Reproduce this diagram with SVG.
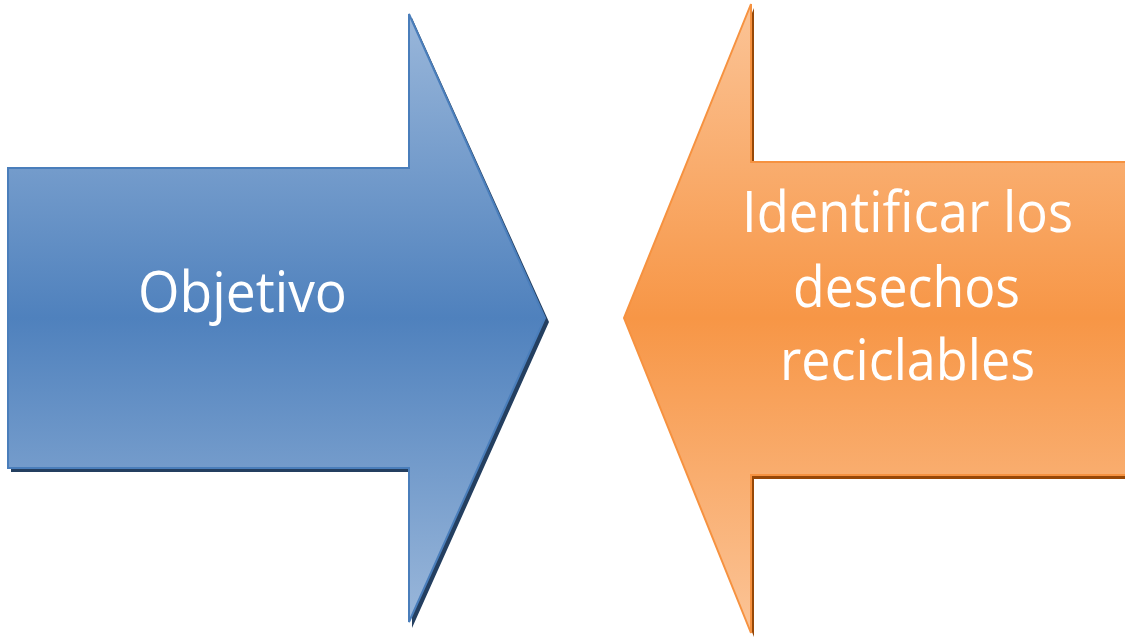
<svg xmlns="http://www.w3.org/2000/svg" width="1125" height="640" viewBox="0 0 1125 640">
  <defs>
    <linearGradient id="gBlue" x1="0" y1="0" x2="0" y2="1">
      <stop offset="0" stop-color="#9ab7da"/>
      <stop offset="0.5" stop-color="#4f81bd"/>
      <stop offset="1" stop-color="#9ab7da"/>
    </linearGradient>
    <linearGradient id="gOrange" x1="0" y1="0" x2="0" y2="1">
      <stop offset="0" stop-color="#fbc497"/>
      <stop offset="0.5" stop-color="#f79646"/>
      <stop offset="1" stop-color="#fbc497"/>
    </linearGradient>
    <style>
      .lbl { font-family: "Open Sans", "Lato", "Liberation Sans", sans-serif; font-size: 57px; fill: #ffffff; text-anchor: middle; }
      .blue { fill: url(#gBlue); stroke: #4a7ebb; stroke-width: 2; }
      .orange { fill: url(#gOrange); stroke: #f69240; stroke-width: 2; }
      .bshadow { fill: #243f60; }
      .oshadow { fill: #984807; }
    </style>
  </defs>
  <g id="node-objetivo">
    <polygon class="bshadow" points="11,172 412,172 412,18 549,322 412,628 412,472 11,472"/>
    <polygon class="blue" points="8,168 409,168 409,14 545,318 409,622 409,468 8,468"/>
    <text class="lbl" x="242.5" y="312" textLength="209" lengthAdjust="spacingAndGlyphs">Objetivo</text>
  </g>
  <g id="node-identificar">
    <polygon class="oshadow" points="1130,166 754,166 754,8 627,322 754,637 754,479 1130,479"/>
    <polygon class="orange" points="1130,162 751,162 751,4 624,318 751,633 751,475 1130,475"/>
    <text class="lbl" x="907.5" y="232" textLength="331" lengthAdjust="spacingAndGlyphs">Identificar los</text>
    <text class="lbl" x="906.5" y="307" textLength="227" lengthAdjust="spacingAndGlyphs">desechos</text>
    <text class="lbl" x="907.5" y="380" textLength="255" lengthAdjust="spacingAndGlyphs">reciclables</text>
  </g>
  <g id="connectors"/>
</svg>
